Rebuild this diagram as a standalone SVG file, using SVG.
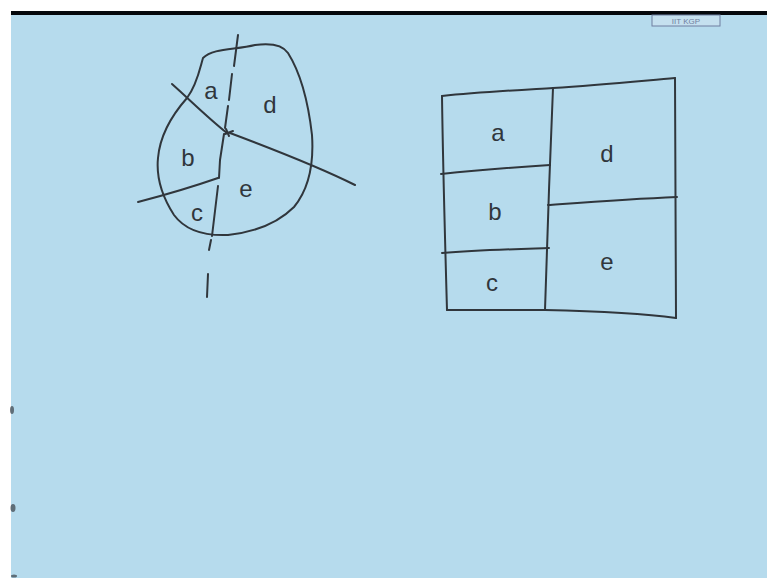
<svg xmlns="http://www.w3.org/2000/svg" width="767" height="578" viewBox="0 0 767 578">
<style>
.ink{fill:none;stroke:#30363c;stroke-width:2;stroke-linecap:round;stroke-linejoin:round}
.lbl{font-family:"Liberation Sans","DejaVu Sans",sans-serif;font-size:24px;fill:#30363c;text-anchor:middle}
</style>
<rect width="767" height="578" fill="#ffffff"/>
<rect x="11" y="15" width="756" height="563" fill="#b6dbed"/>
<rect x="11" y="11" width="756" height="4" fill="#05080c"/>
<g id="logo">
<rect x="652" y="15" width="68" height="11" fill="#c5e0ef" stroke="#6f7fa0" stroke-width="1"/>
<text x="686" y="24" font-family="Liberation Sans, sans-serif" font-size="8" fill="#6f7fa0" text-anchor="middle">IIT KGP</text>
</g>
<g id="marks" fill="#3a4048" opacity="0.7">
<ellipse cx="12" cy="410" rx="2" ry="4"/>
<ellipse cx="13" cy="508" rx="2.5" ry="4"/>
<ellipse cx="14" cy="576" rx="3" ry="1.5"/>
</g>
<g id="blob-sketch">
<path class="ink" d="M203,58 C213,48 235,50 255,45 C270,43 282,44 288,53 C300,72 308,100 312,135 C314,165 308,190 294,207 C278,223 255,232 228,235 C205,236 185,230 174,215 C163,198 156,178 158,158 C160,135 172,115 187,98 C197,85 200,68 203,58 Z"/>
<path class="ink" d="M238,35 L234,66 M232,74 L229,100 M228,106 L225,128 M224,134 L220,160 L219,178 M218,186 L212,236 M211,240 L209,250 M208,274 L207,297"/>
<path class="ink" d="M172,84 C190,100 208,118 227,133"/>
<path class="ink" d="M225,134 L233,131 M226,129 L229,136"/>
<path class="ink" d="M230,133 C270,148 315,165 355,185"/>
<path class="ink" d="M138,202 C165,195 195,186 218,178"/>
</g>
<g id="blob-labels">
<text class="lbl" x="211" y="99" font-size="20">a</text>
<text class="lbl" x="270" y="113" font-size="28">d</text>
<text class="lbl" x="188" y="166" font-size="26">b</text>
<text class="lbl" x="246" y="197">e</text>
<text class="lbl" x="197" y="221">c</text>
</g>
<g id="rectangle">
<path class="ink" d="M442,96 C480,92 520,90 553,88 C600,85 640,81 675,78"/>
<path class="ink" d="M442,96 C443,170 445,240 447,310"/>
<path class="ink" d="M675,78 C675,160 676,240 676,318"/>
<path class="ink" d="M447,310 C480,310 515,310 545,310 C590,311 640,313 676,318"/>
<path class="ink" d="M553,88 C550,160 547,240 545,310"/>
</g>
<g id="cell-a"><path class="ink" d="M441,174 C480,170 520,167 550,165"/><text class="lbl" x="498" y="141">a</text></g>
<g id="cell-b"><path class="ink" d="M442,253 C480,250 520,249 549,248"/><text class="lbl" x="495" y="220">b</text></g>
<g id="cell-c"><text class="lbl" x="492" y="291">c</text></g>
<g id="cell-d"><path class="ink" d="M548,205 C590,202 630,199 677,197"/><text class="lbl" x="607" y="162" font-size="28">d</text></g>
<g id="cell-e"><text class="lbl" x="607" y="270" font-size="26">e</text></g>
</svg>
